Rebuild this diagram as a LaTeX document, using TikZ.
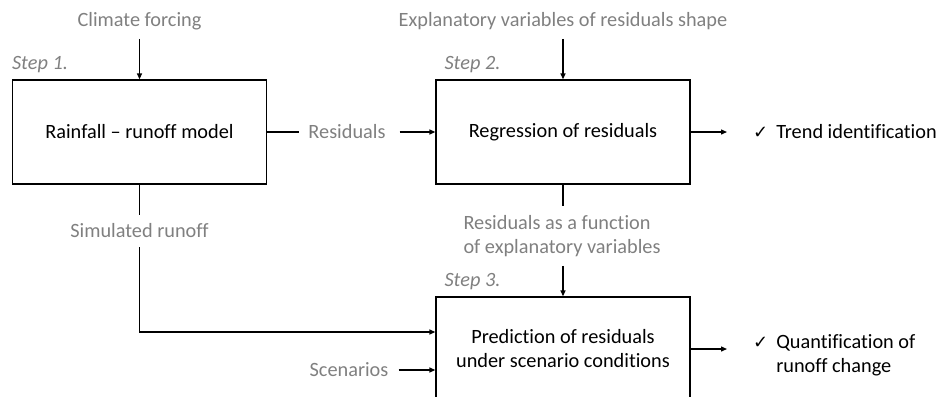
\documentclass[tikz,border=0pt]{standalone}
\usepackage{fontspec}
\setmainfont{Carlito}[Ligatures=NoCommon]
\newfontfamily\checkfont{DejaVu Sans}
\usetikzlibrary{arrows.meta}
\definecolor{labelgray}{RGB}{128,128,128}

\begin{document}
\begin{tikzpicture}[x=1pt,y=-1pt,
        every node/.style={font=\fontsize{20.3}{24}\selectfont},
        box/.style={draw,line width=1.3pt,minimum width=254pt,minimum height=104pt,align=center,inner sep=0pt},
        lbl/.style={text=labelgray,inner sep=0pt},
        steplbl/.style={text=labelgray,font=\fontsize{20.3}{24}\selectfont\itshape,anchor=south west,inner sep=0pt},
        tick/.style={inner sep=0pt,anchor=west,align=left},
        arr/.style={-{Triangle[length=6pt,width=5pt]},line width=1.3pt},
        wire/.style={line width=1.3pt}]
        \clip (0,0) rectangle (941,396);

        % Draw the three boxes
        \node[box] (model) at (139.5,132) {Rainfall -- runoff model};
        \node[box] (regr) at (563,132) {Regression of residuals};
        \node[box] (pred) at (563,349) {Prediction of residuals\\under scenario conditions};

        % Step labels
        \node[steplbl] (step1) at ([yshift=6pt]model.north west) {Step 1.};
        \node[steplbl] (step2) at ([xshift=9pt,yshift=6pt]regr.north west) {Step 2.};
        \node[steplbl] (step3) at ([xshift=9pt,yshift=6pt]pred.north west) {Step 3.};

        % Inputs and intermediate results
        \node[lbl] (climate) at (139.5,21) {Climate forcing};
        \node[lbl] (expl) at (563,21) {Explanatory variables of residuals shape};
        \node[lbl] (resid) at (347,132) {Residuals};
        \node[lbl,align=left] (func) at (562,236) {Residuals as a function\\of explanatory variables};
        \node[lbl] (simrun) at (139.5,231) {Simulated runoff};
        \node[lbl] (scen) at (349,370) {Scenarios};

        % Outcomes
        \node[tick] (trend) at (753,132) {{\checkfont\fontsize{18}{20}\selectfont ✓}\hspace{8pt}Trend identification};
        \node[tick] (quant) at (753,356) {\begin{tabular}{@{}l@{\hspace{8pt}}l@{}}{\checkfont\fontsize{18}{20}\selectfont ✓} & Quantification of\\ & runoff change\end{tabular}};

        % Arrows into the boxes
        \draw[arr] ([yshift=-9pt]climate.south) -- (model.north);
        \draw[arr] ([yshift=-9pt]expl.south) -- (regr.north);
        \draw[wire,shorten >=9pt] (model.east) -- (resid.west);
        \draw[arr,shorten <=14pt] (resid.east) -- (regr.west);
        \draw[wire,shorten >=9pt] (regr.south) -- (regr.south |- func.north);
        \draw[arr,shorten <=9pt] (pred.north |- func.south) -- (pred.north);
        \draw[wire] (model.south) -- ([yshift=9pt]simrun.north);
        \draw[arr] ([yshift=-9pt]simrun.south) |- ([yshift=17pt]pred.west);
        \draw[arr,shorten <=10pt] (scen.east) -- (scen.east -| pred.west);

        % Arrows to the outcomes
        \draw[arr,shorten >=26pt] (regr.east) -- (trend.west);
        \draw[arr,shorten >=26pt] (pred.east) -- (pred.east -| quant.west);
    \end{tikzpicture}
\end{document}
